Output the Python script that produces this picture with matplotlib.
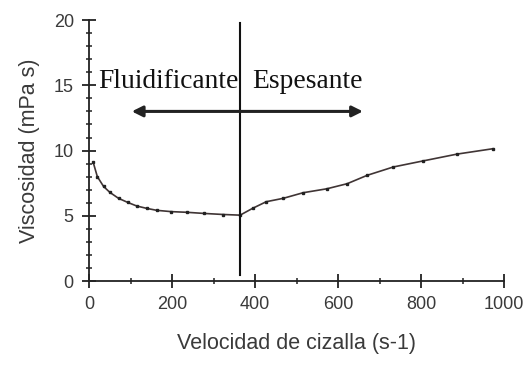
import numpy as np
import matplotlib.pyplot as plt
from matplotlib.ticker import MultipleLocator

# shear rate (s-1) and viscosity (mPa s)
shear_rate = [10, 20, 35, 50, 71, 93, 115, 139, 163, 198, 235, 278, 324, 364,
              394, 427, 468, 516, 573, 622, 670, 733, 804, 887, 973]
viscosity = [9.1, 8.0, 7.25, 6.8, 6.34, 6.03, 5.75, 5.57, 5.42, 5.32, 5.27, 5.18, 5.1, 5.05,
             5.57, 6.08, 6.34, 6.77, 7.07, 7.46, 8.10, 8.74, 9.20, 9.73, 10.14]

boundary = 364  # change from shear thinning to shear thickening
x_ticks = [0, 200, 400, 600, 800, 1000]
y_ticks = [0, 5, 10, 15, 20]

fig = plt.figure(figsize=(5.3, 3.65), dpi=100)
ax = fig.add_axes([0.168, 0.230, 0.783, 0.715])

ax.plot(shear_rate, viscosity, color="#403535", lw=1.2, marker="s", ms=2.0,
        mfc="#222222", mec="#222222")

ax.plot([boundary, boundary], [0.45, 19.8], color="#111111", lw=1.5)

ax.annotate("", xy=(103, 13.0), xytext=(660, 13.0),
            arrowprops=dict(arrowstyle="<|-|>", color="#222222", lw=2.2,
                            mutation_scale=16, shrinkA=0, shrinkB=0))
ax.text(22, 14.8, "Fluidificante", family="Liberation Serif", fontsize=19.8,
        color="#111111", va="baseline")
ax.text(393, 14.8, "Espesante", family="Liberation Serif", fontsize=19.8,
        color="#111111", va="baseline")

ax.set_xlim(0, 1000)
ax.set_ylim(0, 20)
ax.set_xticks(x_ticks)
ax.set_yticks(y_ticks)
ax.xaxis.set_minor_locator(MultipleLocator(100))
ax.yaxis.set_minor_locator(MultipleLocator(1))
for s in ["top", "right"]:
    ax.spines[s].set_visible(False)
for s in ["left", "bottom"]:
    ax.spines[s].set_linewidth(1.3)
    ax.spines[s].set_color("#222222")
ax.tick_params(which="major", direction="inout", length=10, width=1.3,
               color="#222222", labelsize=13, labelcolor="#3a3a3a", pad=6)
ax.tick_params(which="minor", direction="inout", length=5, width=1.1,
               color="#222222")

ax.set_xlabel("Velocidad de cizalla (s-1)", fontsize=15.5, color="#3a3a3a",
              family="Liberation Sans", labelpad=14)
ax.set_ylabel("Viscosidad (mPa s)", fontsize=15.5, color="#3a3a3a",
              family="Liberation Sans", labelpad=10)
for lbl in ax.get_xticklabels() + ax.get_yticklabels():
    lbl.set_family("Liberation Sans")

fig.savefig("out.png", dpi=100)
